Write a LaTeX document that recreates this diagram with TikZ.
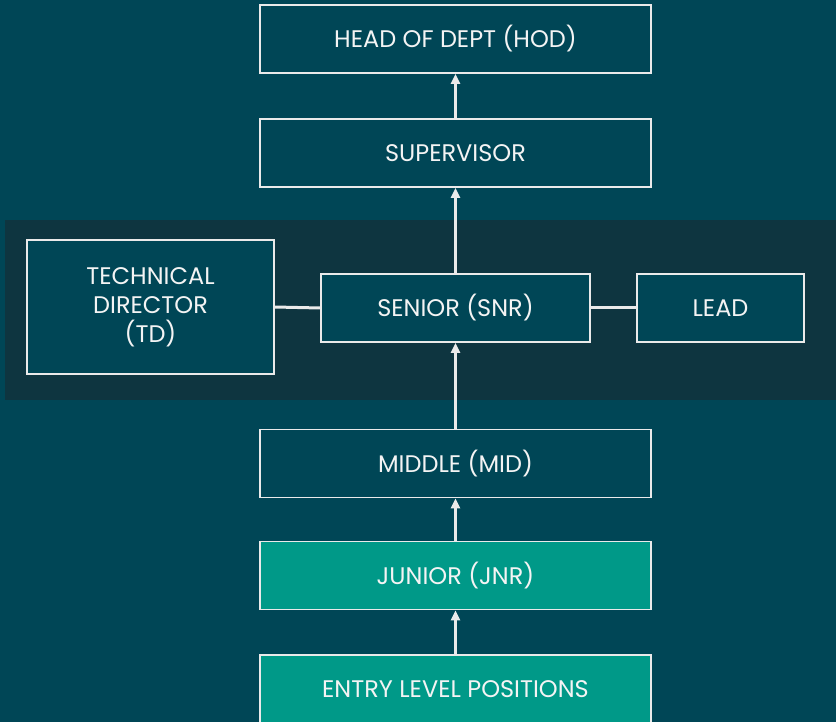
\documentclass[tikz,border=0pt]{standalone}
\usepackage{fontspec}
\setmainfont{Poppins}
\usetikzlibrary{arrows.meta}
\definecolor{bgteal}{HTML}{004656}
\definecolor{band}{HTML}{0E3540}
\definecolor{fillteal}{HTML}{009988}
\definecolor{edge}{HTML}{EAEAEA}
\definecolor{txt}{HTML}{F4F4F4}
\tikzset{
  box/.style={draw=edge, line width=1.8pt, fill=bgteal, text=txt, rectangle, inner sep=0pt,
    font=\fontsize{24}{29}\selectfont, align=center},
  wide/.style={box, minimum width=391pt, minimum height=68pt},
  greenbox/.style={wide, fill=fillteal},
  up/.style={draw=edge, line width=3pt, -{Triangle[width=9pt,length=10pt]}},
  link/.style={draw=edge, line width=3pt}
}
\begin{document}
\begin{tikzpicture}[x=1pt,y=-1pt]
\fill[bgteal] (0,0) rectangle (836,722);
\useasboundingbox (0,0) rectangle (836,722);
\fill[band] (5,220) rectangle (836,400);
\node[wide] (hod) at (455.5,39) {HEAD OF DEPT (HOD)};
\node[wide] (sup) at (455.5,153) {SUPERVISOR};
\node[box, minimum width=247pt, minimum height=134pt] (td) at (150.5,307) {TECHNICAL\\DIRECTOR\\(TD)};
\node[box, minimum width=269pt, minimum height=68pt] (snr) at (455.5,308) {SENIOR (SNR)};
\node[box, minimum width=167pt, minimum height=68pt] (lead) at (720.5,308) {LEAD};
\node[wide] (mid) at (455.5,463.5) {MIDDLE (MID)};
\node[greenbox] (jnr) at (455.5,575.5) {JUNIOR (JNR)};
\node[greenbox] (entry) at (455.5,689) {ENTRY LEVEL POSITIONS};
\draw[up] (entry.north) -- (jnr.south);
\draw[up] (jnr.north) -- (mid.south);
\draw[up] (mid.north) -- (snr.south);
\draw[up] (snr.north) -- (sup.south);
\draw[up] (sup.north) -- (hod.south);
\draw[link] (td.east) -- (snr.west);
\draw[link] (snr.east) -- (lead.west);
\end{tikzpicture}
\end{document}
